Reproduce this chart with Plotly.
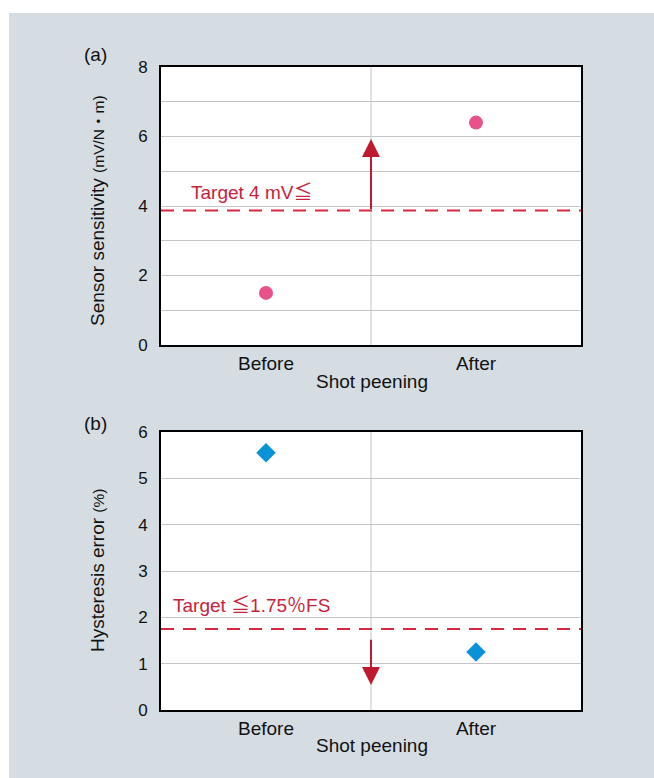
import plotly.graph_objects as go

# ---- data ----
categories = ["Before", "After"]
sensitivity = [1.5, 6.4]          # mV/N·m
hysteresis = [5.55, 1.25]         # %
sens_target = 3.87
sens_target_label = "Target 4 mV≦"
hyst_target = 1.75
hyst_target_label = "Target ≦1.75％FS"
sens_arrow = [3.87, 5.93]         # tail, tip
hyst_arrow = [1.55, 0.54]         # tail, tip
sens_ticks = [0, 2, 4, 6, 8]
hyst_ticks = [0, 1, 2, 3, 4, 5, 6]

W, H = 654, 778
FONT = "Liberation Sans, Arial, Noto Sans CJK JP, sans-serif"
PANEL = "#d5dde3"
GRID = "#c4c5cb"
DASH_RED = "#d8283e"
ARROW_RED = "#c21a2d"
TEXT_RED = "#c8223a"
PINK = "#e8528a"
BLUE = "#0a92d8"
INK = "#111111"

def px(x):
    return x / W

def py(y):
    return 1 - y / H

xdom = [px(161), px(581)]
ydom_a = [py(345), py(67)]
ydom_b = [py(710), py(432)]

xs = list(range(len(categories)))

fig = go.Figure()
fig.add_trace(go.Scatter(x=xs, y=sensitivity, mode="markers",
                         marker=dict(symbol="circle", size=14, color=PINK),
                         xaxis="x", yaxis="y", showlegend=False, hoverinfo="skip"))
fig.add_trace(go.Scatter(x=xs, y=hysteresis, mode="markers",
                         marker=dict(symbol="diamond", size=15, color=BLUE),
                         xaxis="x2", yaxis="y2", showlegend=False, hoverinfo="skip"))

axis_common = dict(showline=True, mirror=True, linecolor="black", linewidth=2,
                   zeroline=False, ticks="", automargin=False,
                   tickfont=dict(family=FONT, size=17, color=INK))

xcommon = dict(axis_common, range=[-0.5, 1.5], tickvals=xs, ticktext=categories,
               showgrid=False, tickfont=dict(family=FONT, size=19, color=INK),
               ticklabelstandoff=0, domain=xdom)

fig.update_layout(
    width=W, height=H,
    margin=dict(l=0, r=0, t=0, b=0, pad=0, autoexpand=False),
    paper_bgcolor=PANEL, plot_bgcolor="white",
    font=dict(family=FONT, color=INK),
    xaxis=dict(xcommon, anchor="y"),
    yaxis=dict(axis_common, domain=ydom_a, range=[0, 8], tickvals=sens_ticks,
               showgrid=True, gridcolor=GRID, gridwidth=1, ticklabelstandoff=8,
               minor=dict(dtick=1, showgrid=True, gridcolor=GRID, gridwidth=1),
               anchor="x"),
    xaxis2=dict(xcommon, anchor="y2"),
    yaxis2=dict(axis_common, domain=ydom_b, range=[0, 6], tickvals=hyst_ticks,
                showgrid=True, gridcolor=GRID, gridwidth=1, ticklabelstandoff=8,
                anchor="x2"),
)

shapes = [
    dict(type="rect", xref="paper", yref="paper", x0=0, x1=px(9), y0=0, y1=1,
         fillcolor="white", line=dict(width=0), layer="below"),
    dict(type="rect", xref="paper", yref="paper", x0=0, x1=1, y0=py(13), y1=1,
         fillcolor="white", line=dict(width=0), layer="below"),
]
for xr, yr in [("x", "y"), ("x2", "y2")]:
    shapes.append(dict(type="line", xref=xr, yref=yr + " domain", x0=0.5, x1=0.5, y0=0, y1=1,
                       line=dict(color=GRID, width=1), layer="below"))
shapes.append(dict(type="line", xref="x domain", yref="y", x0=0, x1=1,
                   y0=sens_target, y1=sens_target,
                   line=dict(color=DASH_RED, width=2, dash="13px,9px")))
shapes.append(dict(type="line", xref="x2 domain", yref="y2", x0=0, x1=1,
                   y0=hyst_target, y1=hyst_target,
                   line=dict(color=DASH_RED, width=2, dash="13px,9px")))
fig.update_layout(shapes=shapes)

def label(x, y, text, size=19, color=INK, angle=0, xanchor="center"):
    return dict(x=px(x), y=py(y), xref="paper", yref="paper", text=text, showarrow=False,
                xanchor=xanchor, yanchor="middle", textangle=angle,
                font=dict(family=FONT, size=size, color=color))

ann = []
# arrows
ann.append(dict(x=0.5, y=sens_arrow[1], ax=0.5, ay=sens_arrow[0], xref="x", yref="y",
                axref="x", ayref="y", text="", showarrow=True, arrowhead=2,
                arrowsize=1.8, arrowwidth=2, arrowcolor=ARROW_RED, standoff=0))
ann.append(dict(x=0.5, y=hyst_arrow[1], ax=0.5, ay=hyst_arrow[0], xref="x2", yref="y2",
                axref="x2", ayref="y2", text="", showarrow=True, arrowhead=2,
                arrowsize=1.8, arrowwidth=2, arrowcolor=ARROW_RED, standoff=0))
# target labels
ann.append(label(189, 192, sens_target_label, size=19, color=TEXT_RED, xanchor="left"))
ann.append(label(171, 605, hyst_target_label, size=19, color=TEXT_RED, xanchor="left"))
# panel labels
ann.append(label(95, 55, "(a)", size=19))
ann.append(label(95, 424, "(b)", size=19))
# axis titles
ann.append(label(97, 211, "Sensor sensitivity <span style='font-size:15.5px'>(mV/N・m)</span>",
                 size=19, angle=-90))
ann.append(label(97, 571, "Hysteresis error <span style='font-size:15.5px'>(%)</span>",
                 size=19, angle=-90))
ann.append(label(372, 381, "Shot peening", size=19))
ann.append(label(372, 745, "Shot peening", size=19))
fig.update_layout(annotations=ann)

fig.write_html("out.html", config={"displayModeBar": False},
               post_script="document.body.style.margin='0px';")
